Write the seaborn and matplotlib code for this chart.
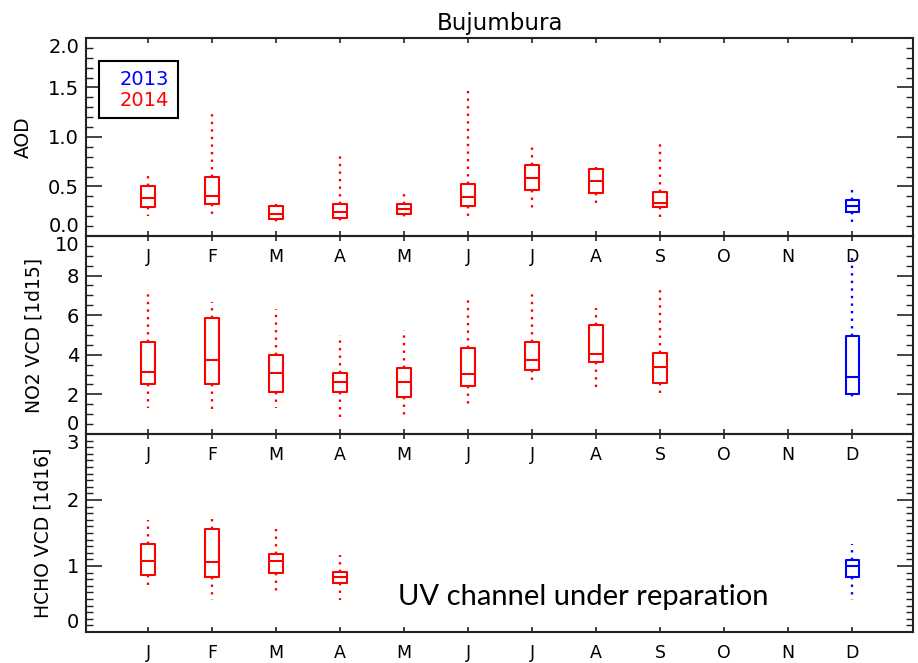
# =====================================================
# BUJUMBURA - MONTHLY BOX PLOTS (AOD, NO2, HCHO)
# =====================================================

import numpy as np
import pandas as pd
import matplotlib
matplotlib.use("Agg")
import matplotlib.pyplot as plt
from matplotlib.lines import Line2D
from matplotlib.ticker import MultipleLocator
import seaborn as sns

# ---------- DATA ----------
months = ["Jan", "Feb", "Mar", "Apr", "May", "Jun",
          "Jul", "Aug", "Sep", "Oct", "Nov", "Dec"]
month_letters = ["J", "F", "M", "A", "M", "J", "J", "A", "S", "O", "N", "D"]

# five-number summaries: low whisker, q1, median, q3, high whisker
aod_months = ["Jan", "Feb", "Mar", "Apr", "May", "Jun", "Jul", "Aug", "Sep", "Dec"]
aod_years = [2014, 2014, 2014, 2014, 2014, 2014, 2014, 2014, 2014, 2013]
aod_low = [0.20, 0.21, 0.11, 0.11, 0.16, 0.17, 0.26, 0.33, 0.19, 0.10]
aod_q1 = [0.29, 0.32, 0.17, 0.18, 0.22, 0.30, 0.46, 0.43, 0.29, 0.24]
aod_med = [0.38, 0.40, 0.22, 0.24, 0.27, 0.39, 0.59, 0.56, 0.33, 0.30]
aod_q3 = [0.50, 0.60, 0.30, 0.32, 0.32, 0.53, 0.72, 0.68, 0.44, 0.36]
aod_high = [0.66, 1.28, 0.32, 0.85, 0.47, 1.49, 0.94, 0.70, 0.97, 0.51]

no2_months = ["Jan", "Feb", "Mar", "Apr", "May", "Jun", "Jul", "Aug", "Sep", "Dec"]
no2_years = [2014, 2014, 2014, 2014, 2014, 2014, 2014, 2014, 2014, 2013]
no2_low = [1.30, 1.18, 1.30, 0.87, 0.87, 1.48, 2.64, 2.11, 1.97, 1.87]
no2_q1 = [2.53, 2.53, 2.11, 2.11, 1.85, 2.41, 3.25, 3.65, 2.58, 2.00]
no2_med = [3.15, 3.75, 3.07, 2.61, 2.61, 3.03, 3.75, 4.04, 3.37, 2.86]
no2_q3 = [4.63, 5.86, 3.99, 3.08, 3.32, 4.34, 4.63, 5.52, 4.09, 4.93]
no2_high = [7.30, 6.68, 6.31, 5.00, 5.27, 6.98, 7.27, 6.35, 7.46, 9.10]

hcho_months = ["Jan", "Feb", "Mar", "Apr", "Dec"]
hcho_years = [2014, 2014, 2014, 2014, 2013]
hcho_low = [0.64, 0.49, 0.56, 0.49, 0.49]
hcho_q1 = [0.87, 0.83, 0.90, 0.74, 0.84]
hcho_med = [1.07, 1.06, 1.07, 0.83, 1.00]
hcho_q3 = [1.33, 1.56, 1.18, 0.91, 1.09]
hcho_high = [1.70, 1.79, 1.56, 1.16, 1.33]

year_colors = {2013: "#0000ff", 2014: "#ff0000"}


def to_frame(mon, yrs, *stats):
    # one row per summary value, so the quartiles come out exactly
    rows = []
    for i, m in enumerate(mon):
        for s in stats:
            rows.append({"month": m, "year": yrs[i], "value": s[i]})
    return pd.DataFrame(rows)


aod_df = to_frame(aod_months, aod_years, aod_low, aod_q1, aod_med, aod_q3, aod_high)
no2_df = to_frame(no2_months, no2_years, no2_low, no2_q1, no2_med, no2_q3, no2_high)
hcho_df = to_frame(hcho_months, hcho_years, hcho_low, hcho_q1, hcho_med, hcho_q3, hcho_high)

# ---------- STYLE ----------
sns.set_style("ticks")
plt.rcParams["font.family"] = ["DejaVu Sans"]
plt.rcParams["axes.linewidth"] = 1.5
plt.rcParams["axes.edgecolor"] = "#222222"
plt.rcParams["text.color"] = "black"
plt.rcParams["axes.labelcolor"] = "black"
plt.rcParams["xtick.color"] = "#222222"
plt.rcParams["ytick.color"] = "#222222"
plt.rcParams["xtick.labelcolor"] = "black"
plt.rcParams["ytick.labelcolor"] = "black"

fig, axes = plt.subplots(3, 1, figsize=(9.18, 6.63), dpi=100)
fig.subplots_adjust(left=0.0937, right=0.9946, top=0.9427, bottom=0.0468, hspace=0)

panels = [
    (aod_df, "AOD", (0, 2.0), np.arange(0, 2.01, 0.5), 0.1, "%.1f", -0.064),
    (no2_df, "NO2 VCD [1d15]", (0, 10), np.arange(0, 11, 2), 0.5, "%d", -0.052),
    (hcho_df, "HCHO VCD [1d16]", (0, 3), np.arange(0, 4, 1), 0.1, "%d", -0.040),
]

for ax, (df, ylabel, ylim, yticks, minor, fmt, labx) in zip(axes, panels):
    sns.boxplot(
        data=df, x="month", y="value", hue="year", order=months,
        palette=year_colors, dodge=False, fill=False, width=0.21,
        saturation=1, whis=(0, 100), linewidth=1.5, legend=False,
        showcaps=False, showfliers=False,
        whiskerprops=dict(linestyle=(0, (1, 2.2)), linewidth=1.7),
        ax=ax,
    )
    # transparent background so the month letters of the panel above stay visible
    ax.patch.set_alpha(0)
    ax.set_xlim(-0.97, 11.95)
    ax.set_ylim(*ylim)
    ax.set_xticks(range(12))
    ax.set_xticklabels(month_letters)
    ax.set_xlabel("")
    ax.set_yticks(yticks)
    ax.set_yticklabels([fmt % v for v in yticks])
    ax.yaxis.set_minor_locator(MultipleLocator(minor))
    ax.set_ylabel(ylabel, fontsize=13.5)
    ax.yaxis.set_label_coords(labx, 0.5)

    ax.tick_params(axis="x", which="both", direction="in", top=True, bottom=True,
                   length=3.5, width=1.2, labelsize=12.5, pad=9)
    ax.tick_params(axis="x", which="minor", length=0)
    ax.tick_params(axis="y", which="major", direction="in", left=True, right=True,
                   length=11.5, width=1.2, labelsize=14, pad=5)
    ax.tick_params(axis="y", which="minor", direction="in", left=True, right=True,
                   length=5, width=1.0)

    # end labels pulled inside the panel, as in the original
    yt = ax.yaxis.get_major_ticks()
    yt[0].label1.set_va("bottom")
    yt[-1].label1.set_va("top")

# ---------- TITLE AND LEGEND ----------
axes[0].set_title("Bujumbura", fontsize=16.5, pad=6)

handles = [Line2D([], [], linestyle="none"), Line2D([], [], linestyle="none")]
leg = axes[0].legend(handles, ["2013", "2014"], loc="upper left",
                     bbox_to_anchor=(0.0157, 0.884), borderaxespad=0,
                     fancybox=False, edgecolor="black", framealpha=1,
                     handlelength=0.4, handletextpad=0.2, borderpad=0.45,
                     labelspacing=0.1, fontsize=14)
leg.get_frame().set_linewidth(1.5)
for txt, c in zip(leg.get_texts(), [year_colors[2013], year_colors[2014]]):
    txt.set_color(c)

# ---------- NOTE ----------
axes[2].text(3.9, 0.53, "UV channel under reparation", fontsize=21,
             family=["Lato", "DejaVu Sans"], ha="left", va="center", color="black")

fig.savefig("out.png", dpi=100)
print("Saved out.png")
